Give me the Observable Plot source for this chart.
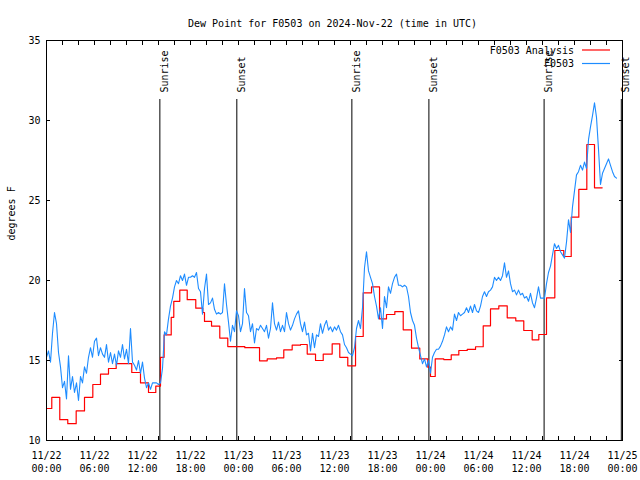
<!DOCTYPE html>
<html><head><meta charset="utf-8">
<script src="https://cdn.jsdelivr.net/npm/d3@7"></script>
<script src="https://cdn.jsdelivr.net/npm/@observablehq/plot@0.6"></script>
<style>body{margin:0;background:#fff}</style>
</head><body><div id="chart"></div>
<script>
const title = "Dew Point for F0503 on 2024-Nov-22 (time in UTC)";
const yLabel = "degrees F";
const seriesNames = ["F0503 Analysis", "F0503"];
const seriesColors = ["#ff0000", "#1e8cff"];
const xTickHours = [0, 6, 12, 18, 24, 30, 36, 42, 48, 54, 60, 66, 72];
const xTickLabels = ["11/22\n00:00", "11/22\n06:00", "11/22\n12:00", "11/22\n18:00",
  "11/23\n00:00", "11/23\n06:00", "11/23\n12:00", "11/23\n18:00",
  "11/24\n00:00", "11/24\n06:00", "11/24\n12:00", "11/24\n18:00", "11/25\n00:00"];
const xMinorTickHours = [0,2,4,6,8,10,12,14,16,18,20,22,24,26,28,30,32,34,36,38,40,42,44,46,48,50,52,54,56,58,60,62,64,66,68,70,72];
const yTicks = [10, 15, 20, 25, 30, 35];
const sunHours = [14.17, 23.79, 38.17, 47.8, 62.2, 71.85];
const sunLabels = ["Sunrise", "Sunset", "Sunrise", "Sunset", "Sunrise", "Sunset"];

// Analysis (red) step series: hours since 11/22 00:00 UTC, dew point F
const analysisHours = [0, 0.66, 1.66, 2.66, 3.71, 4.75, 5.79, 6.75, 7.75, 8.71, 10.66, 11.75, 12.75, 13.66,
  14.25, 14.7, 15.59, 15.91, 16.66, 17.59, 18.66, 19.54, 19.75, 20.63, 21.66, 22.66, 24.79,
  26.63, 27.59, 28.75, 29.66, 30.71, 31.75, 32.59, 33.63, 34.59, 35.71, 36.66, 37.66,
  38.63, 39.59, 40.63, 41.63, 42.5, 43.54, 44.59, 45.63, 46.66, 47.66, 48.0, 48.59,
  49.66, 50.59, 51.54, 52.59, 53.63, 54.59, 55.5, 56.54, 57.59, 58.66, 59.66, 60.71, 61.54,
  62.5, 63.54, 64.66, 65.59, 66.54, 67.54, 68.5, 69.46];
const analysisValues = [12.0, 12.7, 11.3, 11.05, 11.85, 12.7, 13.5, 14.15, 14.5, 14.8, 14.25, 13.6, 13.0, 13.4,
  15.2, 16.6, 17.7, 18.7, 19.4, 18.8, 18.27, 18.0, 17.44, 17.15, 16.4, 15.87, 15.8,
  14.98, 15.1, 15.17, 15.67, 15.96, 16.0, 15.4, 15.0, 15.4, 16.04, 15.2, 14.67,
  16.5, 19.23, 19.6, 17.6, 17.875, 18.06, 16.92, 15.77, 15.1, 14.58, 14.0, 15.1,
  15.06, 15.35, 15.625, 15.69, 15.86, 17.17, 18.23, 18.42, 17.67, 17.48, 16.875, 16.29, 16.625,
  18.92, 21.875, 21.5, 23.96, 25.69, 28.5, 25.79, 25.79];

// Station (blue) observations every 15 minutes from 11/22 00:00 UTC
const obsStartHour = 0;
const obsStepHours = 0.25;
const obsValues = [
  15.2, 15.6, 14.9, 16.7,  18.0, 17.3, 15.5, 14.6,  13.3, 13.7, 12.6, 15.3,  13.2, 14.0, 13.0, 13.6,
  12.5, 14.0, 13.6, 14.6,  14.2, 15.2, 15.8, 15.2,  16.2, 16.4, 15.3, 15.8,  15.4, 15.2, 16.0, 14.9,
  15.5, 14.8, 15.4, 14.7,  15.6, 15.2, 16.0, 15.1,  15.7, 14.8, 17.0, 14.9,  14.7, 14.4, 15.0, 14.2,
  14.9, 13.9, 13.3, 13.6,  13.2, 13.6, 13.6, 13.6,  13.5, 13.6, 14.5, 16.8,  16.6, 17.6, 18.4, 18.9,
  19.6, 20.0, 19.8, 20.3,  20.0, 20.4, 19.7, 20.2,  20.2, 20.3, 20.2, 20.5,  19.5, 19.3, 17.9, 19.5,
  20.4, 18.5, 18.6, 18.9,  18.2, 17.9, 18.0, 17.9,  18.0, 19.8, 18.5, 17.4,  16.2, 17.2, 16.8, 18.1,
  17.8, 16.8, 17.3, 19.5,  18.0, 17.8, 16.8, 17.3,  16.1, 17.0, 16.9, 17.2,  17.0, 16.8, 17.2, 16.4,
  17.0, 18.6, 17.3, 16.9,  17.4, 16.8, 17.2, 16.8,  18.0, 17.3, 16.9, 17.2,  17.6, 17.9, 18.1, 17.3,
  16.8, 17.4, 16.6, 16.7,  15.6, 16.7, 15.8, 16.6,  16.5, 17.3, 16.7, 17.2,  17.5, 16.9, 17.1, 16.8,
  17.1, 16.9, 17.2, 16.8,  16.6, 16.0, 15.8, 15.5,  15.4, 15.3, 15.8, 17.0,  17.5, 17.0, 18.3, 20.8,
  21.8, 20.6, 20.2, 19.8,  19.0, 18.4, 17.6, 18.3,  17.0, 19.0, 18.3, 19.6,  19.2, 19.8, 20.2, 20.4,
  19.7, 19.7, 19.6, 19.7,  19.6, 19.0, 18.0, 17.5,  17.2, 16.4, 15.8, 15.3,  14.8, 15.1, 14.6, 15.0,
  14.2, 15.2, 15.5, 15.7,  15.7, 15.9, 16.2, 16.6,  17.1, 16.8, 17.1, 16.9,  17.9, 17.5, 18.0, 17.8,
  17.9, 18.0, 18.3, 18.0,  18.4, 18.0, 18.5, 18.1,  18.0, 18.4, 19.0, 19.3,  19.0, 19.3, 19.4, 19.6,
  20.2, 20.0, 20.2, 20.0,  20.3, 21.1, 20.2, 20.6,  19.8, 19.3, 19.4, 19.1,  19.4, 19.1, 19.2, 18.9,
  19.0, 18.7, 19.2, 18.6,  18.3, 18.9, 19.6, 18.9,  18.9, 18.9, 19.8, 20.5,  20.9, 21.6, 22.3, 22.0,
  22.2, 21.8, 21.6, 21.4,  22.4, 23.8, 23.0, 24.6,  25.6, 26.6, 26.8, 27.2,  26.9, 27.4, 27.0, 28.8,
  29.6, 30.3, 31.1, 30.2,  28.2, 26.0, 26.7, 27.0,  27.3, 27.6, 27.2, 26.8,  26.5, 26.4
];

const analysis = analysisHours.map((h, i) => ({h, v: analysisValues[i]}));
const obs = obsValues.map((v, i) => ({h: obsStartHour + i * obsStepHours, v}));
const sunEvents = sunHours.map((h, i) => ({h, label: sunLabels[i]}));

const font = "'DejaVu Sans Mono', 'Liberation Mono', monospace";

const chart = Plot.plot({
  width: 640, height: 480,
  marginLeft: 46, marginRight: 18, marginTop: 40, marginBottom: 40,
  style: {fontFamily: font, fontSize: "10px", background: "white", color: "black"},
  x: {domain: [0, 72], axis: null, label: null},
  y: {domain: [10, 35], axis: null, label: null},
  marks: [
    Plot.ruleX(sunEvents, {x: "h", insetTop: 59, stroke: "black", strokeWidth: 1}),
    Plot.text(sunEvents, {x: "h", text: "label", frameAnchor: "top", rotate: -90, textAnchor: "start", dy: 52, dx: 1}),
    Plot.line(analysis, {x: "h", y: "v", curve: "step-after", stroke: seriesColors[0], strokeWidth: 1.2}),
    Plot.line(obs, {x: "h", y: "v", stroke: seriesColors[1], strokeWidth: 1.1}),
    Plot.frame({stroke: "black", strokeWidth: 1}),
    Plot.axisX(xMinorTickHours, {anchor: "bottom", tickSize: -4, tickFormat: () => ""}),
    Plot.axisX(xMinorTickHours, {anchor: "top", tickSize: -4, tickFormat: () => ""}),
    Plot.axisX(xTickHours, {anchor: "bottom", tickSize: 0, tickPadding: 9, lineHeight: 1.3,
      tickFormat: d => xTickLabels[xTickHours.indexOf(d)]}),
    Plot.axisY(yTicks, {anchor: "left", tickSize: -4, tickPadding: 10}),
    Plot.axisY(yTicks, {anchor: "right", tickSize: -4, tickFormat: () => ""}),
    Plot.text([yLabel], {frameAnchor: "left", rotate: -90, dx: -35}),
    Plot.text([title], {frameAnchor: "top", dy: -21, dx: -2})
  ]
});

// legend inside the plot, top right
const svg = d3.select(chart);
const lg = svg.append("g").attr("font-family", font).attr("font-size", 10);
const rows = [[seriesNames[0], seriesColors[0], 50], [seriesNames[1], seriesColors[1], 63.5]];
rows.forEach(([name, color, y]) => {
  lg.append("text").attr("x", 574).attr("y", y).attr("text-anchor", "end")
    .attr("dy", "0.35em").attr("fill", "black").text(name);
  lg.append("line").attr("x1", 582).attr("x2", 610).attr("y1", y).attr("y2", y)
    .attr("stroke", color).attr("stroke-width", 1.2);
});
document.getElementById("chart").appendChild(chart);
</script>
</body></html>
